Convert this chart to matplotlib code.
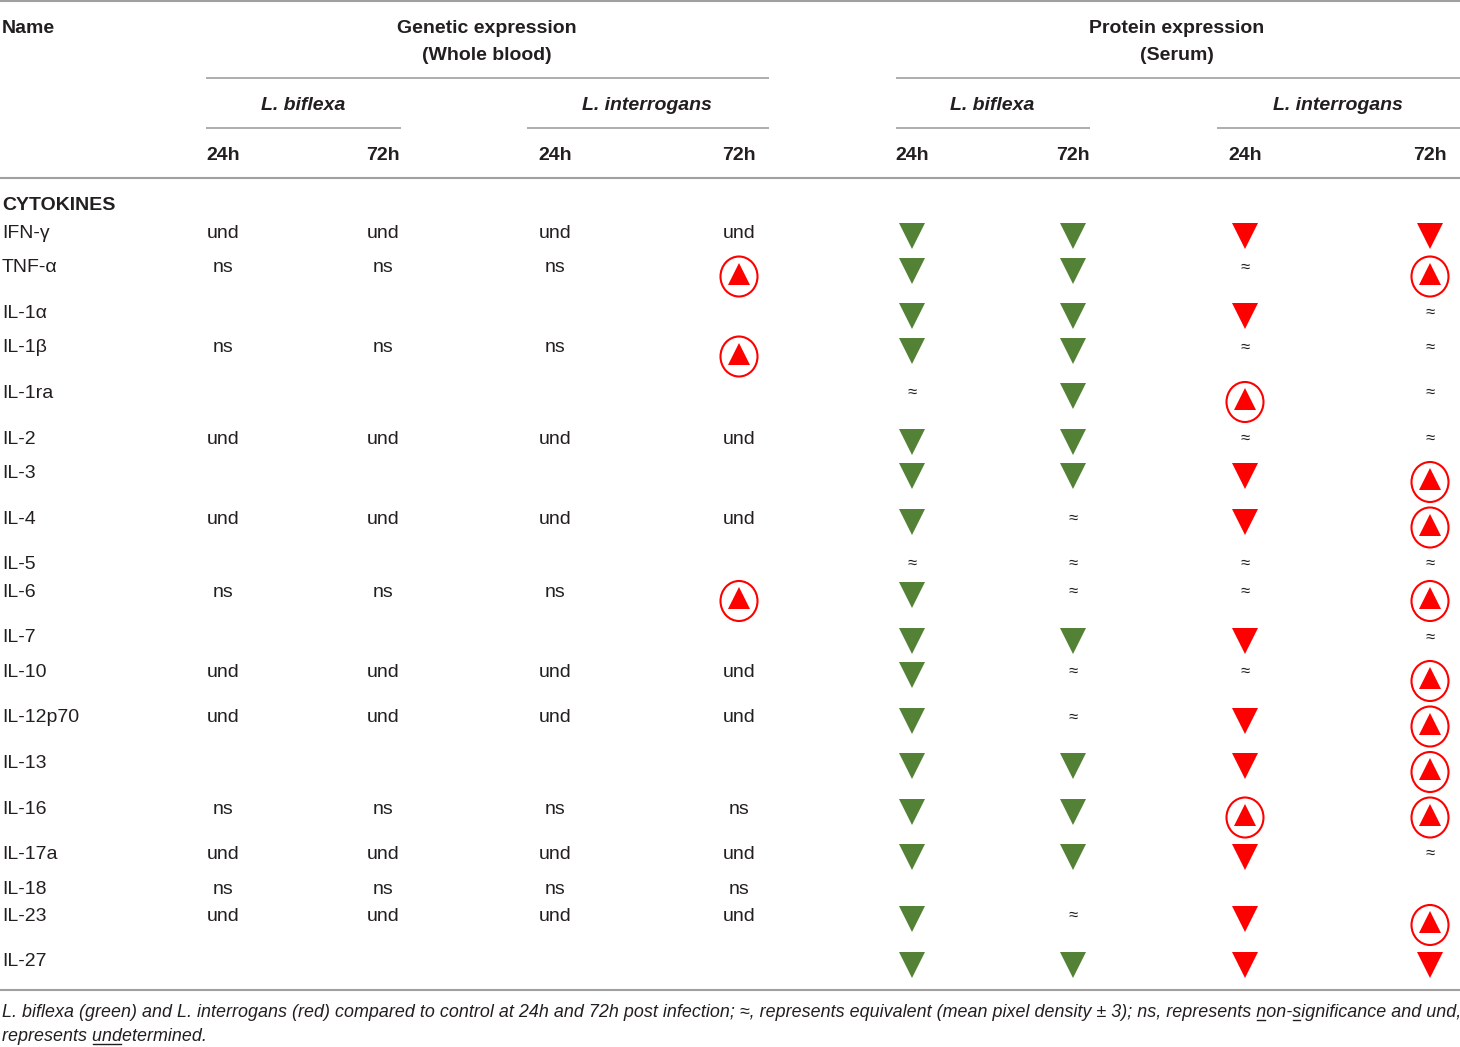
import matplotlib.pyplot as plt
from matplotlib.patches import Ellipse

plt.rcParams['font.family'] = ['Liberation Sans', 'DejaVu Sans']

# Table content
names = ['IFN-γ', 'TNF-α', 'IL-1α', 'IL-1β', 'IL-1ra', 'IL-2', 'IL-3', 'IL-4',
         'IL-5', 'IL-6', 'IL-7', 'IL-10', 'IL-12p70', 'IL-13', 'IL-16',
         'IL-17a', 'IL-18', 'IL-23', 'IL-27']

# genetic expression: L. biflexa 24h, 72h, L. interrogans 24h, 72h
genetic = [
    ['und', 'und', 'und', 'und'],
    ['ns', 'ns', 'ns', 'up'],
    ['', '', '', ''],
    ['ns', 'ns', 'ns', 'up'],
    ['', '', '', ''],
    ['und', 'und', 'und', 'und'],
    ['', '', '', ''],
    ['und', 'und', 'und', 'und'],
    ['', '', '', ''],
    ['ns', 'ns', 'ns', 'up'],
    ['', '', '', ''],
    ['und', 'und', 'und', 'und'],
    ['und', 'und', 'und', 'und'],
    ['', '', '', ''],
    ['ns', 'ns', 'ns', 'ns'],
    ['und', 'und', 'und', 'und'],
    ['ns', 'ns', 'ns', 'ns'],
    ['und', 'und', 'und', 'und'],
    ['', '', '', ''],
]

# protein expression: L. biflexa 24h, 72h, L. interrogans 24h, 72h
protein = [
    ['down', 'down', 'down', 'down'],
    ['down', 'down', 'eq', 'up'],
    ['down', 'down', 'down', 'eq'],
    ['down', 'down', 'eq', 'eq'],
    ['eq', 'down', 'up', 'eq'],
    ['down', 'down', 'eq', 'eq'],
    ['down', 'down', 'down', 'up'],
    ['down', 'eq', 'down', 'up'],
    ['eq', 'eq', 'eq', 'eq'],
    ['down', 'eq', 'eq', 'up'],
    ['down', 'down', 'down', 'eq'],
    ['down', 'eq', 'eq', 'up'],
    ['down', 'eq', 'down', 'up'],
    ['down', 'down', 'down', 'up'],
    ['down', 'down', 'up', 'up'],
    ['down', 'down', 'down', 'eq'],
    ['', '', '', ''],
    ['down', 'eq', 'down', 'up'],
    ['down', 'down', 'down', 'down'],
]

group_titles = ['Genetic expression\n(Whole blood)', 'Protein expression\n(Serum)']
species = ['L. biflexa', 'L. interrogans']
times = ['24h', '72h']

footnote = ('L. biflexa (green) and L. interrogans (red) compared to control at 24h and 72h '
            'post infection; ≈, represents equivalent (mean pixel density ± 3); ns, represents '
            'non-significance and und,')
footnote2 = 'represents undetermined.'

# layout (pixels)
W, H = 1460, 1047
col_x = [223, 383, 555, 739, 912, 1073, 1245, 1430]
TEXT = '#231f20'
RULE = '#a0a0a0'
GREEN = '#538135'
RED = '#ff0000'
FS = 14

fig = plt.figure(figsize=(W / 100, H / 100), dpi=100)
ax = fig.add_axes([0, 0, 1, 1])
ax.set_xlim(0, W)
ax.set_ylim(H, 0)
ax.axis('off')


def hline(y, x0, x1, lw=1.5):
    ax.plot([x0, x1], [y, y], color=RULE, lw=lw, solid_capstyle='butt')


# header rules
hline(1, 0, W)
hline(178, 0, W)
hline(990, 0, W)
hline(78, 206, 769, 1.2)
hline(78, 896, W, 1.2)
for x0, x1 in [(206, 401), (527, 769), (896, 1090), (1217, W)]:
    hline(128, x0, x1, 1.2)

# header texts
ax.text(2, 33, 'Name', fontsize=FS, fontweight='bold', color=TEXT, va='baseline')
for g, title in enumerate(group_titles):
    cx = (col_x[g * 4] + col_x[g * 4 + 3]) / 2 + 6
    l1, l2 = title.split('\n')
    ax.text(cx, 33, l1, fontsize=FS, fontweight='bold', color=TEXT, ha='center', va='baseline')
    ax.text(cx, 60, l2, fontsize=FS, fontweight='bold', color=TEXT, ha='center', va='baseline')
    for s, sp in enumerate(species):
        c0 = col_x[g * 4 + s * 2]
        c1 = col_x[g * 4 + s * 2 + 1]
        ax.text((c0 + c1) / 2, 110, sp, fontsize=FS, fontweight='bold',
                fontstyle='italic', color=TEXT, ha='center', va='baseline')
        for t, tm in enumerate(times):
            ax.text(col_x[g * 4 + s * 2 + t], 160, tm, fontsize=FS, fontweight='bold',
                    color=TEXT, ha='center', va='baseline')

ax.text(2, 210, 'CYTOKINES', fontsize=FS, fontweight='bold', color=TEXT, va='baseline')


def circled_up(x, y):
    ax.add_patch(Ellipse((x, y + 11), 37, 40, fill=False, ec=RED, lw=1.5))
    ax.plot([x], [y + 8], marker='^', color=RED, markersize=16.5, mew=0, ls='none')


y = 231
for i, name in enumerate(names):
    ax.text(2, y + 7, name, fontsize=FS, color=TEXT, va='baseline')
    cells = genetic[i] + protein[i]
    for j, c in enumerate(cells):
        x = col_x[j]
        if c in ('und', 'ns'):
            ax.text(x, y + 7, c, fontsize=FS, color=TEXT, ha='center', va='baseline')
        elif c == 'up':
            circled_up(x, y)
        elif c == 'down':
            colour = GREEN if j in (4, 5) else RED
            ax.plot([x], [y + 5], marker='v', color=colour, markersize=19, mew=0, ls='none')
        elif c == 'eq':
            ax.text(x, y + 6, '≈', fontsize=12, color=TEXT, ha='center', va='baseline')
    # row height depends on what the row holds
    if 'up' in cells:
        y += 45.5
    elif 'down' in cells:
        y += 34.5
    elif 'eq' in cells:
        y += 28
    else:
        y += 27.5

# footnote, with the underlined letters
FFS = 12.9
ax.text(2, 1017, footnote, fontsize=FFS, fontstyle='italic', color=TEXT, va='baseline')
ax.text(2, 1041, footnote2, fontsize=FFS, fontstyle='italic', color=TEXT, va='baseline')

renderer = fig.canvas.get_renderer()


def text_width(s):
    t = ax.text(0, 0, s, fontsize=FFS, fontstyle='italic')
    w = t.get_window_extent(renderer).width
    t.remove()
    return w


def underline(line, start, stop, ybase):
    x0 = 2 + text_width(line[:start])
    x1 = 2 + text_width(line[:stop])
    ax.plot([x0 + 1, x1 - 1], [ybase + 3, ybase + 3], color=TEXT, lw=1)


k = footnote.index('non-significance')
underline(footnote, k, k + 1, 1017)
underline(footnote, k + 4, k + 5, 1017)
k2 = footnote2.index('undetermined')
underline(footnote2, k2, k2 + 3, 1041)

fig.savefig('out.png', dpi=100)
